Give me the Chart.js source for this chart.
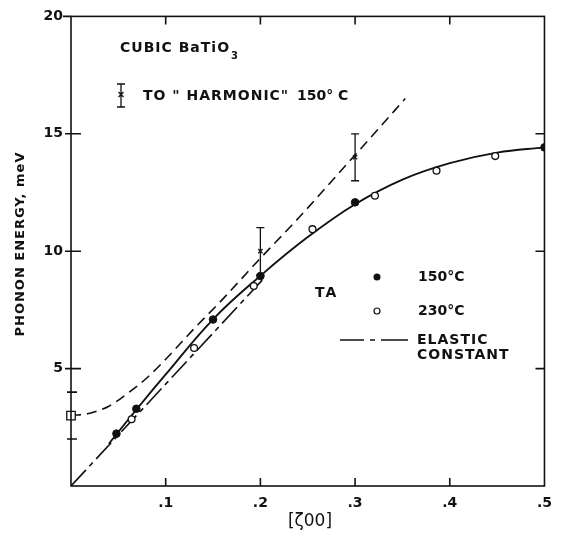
<!DOCTYPE html>
<html>
<head>
<meta charset="utf-8">
<script src="https://cdn.jsdelivr.net/npm/chart.js@4.4.0/dist/chart.umd.min.js"></script>
<style>
	html, body { margin: 0; padding: 0; background: #fff; }
	canvas { display: block; }
</style>
</head>
<body>
<canvas id="c" width="561" height="546"></canvas>
<script>
// TA phonon branch of cubic BaTiO3 along [ζ00]
const filled150 = [[0.048, 2.23], [0.069, 3.29], [0.150, 7.09], [0.200, 8.94], [0.300, 12.08], [0.500, 14.42]];
const open230 = [[0.064, 2.84], [0.130, 5.88], [0.193, 8.52], [0.255, 10.94], [0.321, 12.36], [0.386, 13.43], [0.448, 14.05]];

// smooth fit through the points
const fitCurve = [[0.040, 1.80], [0.070, 3.30], [0.100, 4.75], [0.150, 7.10], [0.200, 8.95], [0.250, 10.60],
	[0.300, 12.00], [0.350, 13.05], [0.400, 13.75], [0.450, 14.20], [0.500, 14.42]];

// "harmonic" dashed curve starting at the open square
const harmonicCurve = [[0.000, 3.00], [0.020, 3.10], [0.040, 3.40], [0.060, 3.95], [0.080, 4.60], [0.100, 5.40],
	[0.130, 6.70], [0.160, 7.95], [0.200, 9.70], [0.240, 11.40], [0.280, 13.20], [0.320, 15.00], [0.353, 16.50]];
const harmonicStart = [[0.0, 3.0]];

// elastic constant line
const elasticLine = [[0.0, 0.0], [0.205, 8.9]];

// TO "harmonic" 150°C error bars
const errX = [0.2, 0.3];
const errY = [10.0, 14.0];
const errLo = [9.0, 13.0];
const errHi = [11.0, 15.0];

const xTicks = [0, 0.1, 0.2, 0.3, 0.4, 0.5];
const yTicks = [0, 5, 10, 15, 20];
const yMinorTicks = [2, 4];

const FONT = "'DejaVu Sans', sans-serif";
const INK = '#111';

const toXY = arr => arr.map(p => ({x: p[0], y: p[1]}));

const framePlugin = {
	id: 'frame',
	afterDatasetsDraw(chart) {
		const {ctx, chartArea: a, scales: {x, y}} = chart;
		ctx.save();
		ctx.strokeStyle = INK;
		ctx.fillStyle = INK;

		// error bars
		ctx.lineWidth = 1.3;
		errX.forEach((xv, i) => {
			const px = x.getPixelForValue(xv);
			const top = y.getPixelForValue(errHi[i]);
			const bot = y.getPixelForValue(errLo[i]);
			ctx.beginPath();
			ctx.moveTo(px, top); ctx.lineTo(px, bot);
			ctx.moveTo(px - 4, top); ctx.lineTo(px + 4, top);
			ctx.moveTo(px - 4, bot); ctx.lineTo(px + 4, bot);
			ctx.stroke();
		});

		// frame
		ctx.lineWidth = 1.6;
		ctx.strokeRect(a.left, a.top, a.right - a.left, a.bottom - a.top);

		// inward ticks
		ctx.beginPath();
		xTicks.forEach(v => {
			if (v === 0 || v === 0.5) return;
			const px = x.getPixelForValue(v);
			ctx.moveTo(px, a.bottom); ctx.lineTo(px, a.bottom - 8);
			ctx.moveTo(px, a.top); ctx.lineTo(px, a.top + 8);
		});
		yTicks.forEach(v => {
			if (v === 0) return;
			const py = y.getPixelForValue(v);
			if (v === 20) {
				ctx.moveTo(a.left - 8, py); ctx.lineTo(a.left, py);
				return;
			}
			ctx.moveTo(a.left - 6, py); ctx.lineTo(a.left + 10, py);
			ctx.moveTo(a.right, py); ctx.lineTo(a.right - 9, py);
		});
		yMinorTicks.forEach(v => {
			const py = y.getPixelForValue(v);
			ctx.moveTo(a.left - 4, py); ctx.lineTo(a.left + 6, py);
		});
		ctx.stroke();

		// annotations
		ctx.textBaseline = 'middle';
		ctx.textAlign = 'left';
		ctx.font = `bold 14px ${FONT}`;
		ctx.letterSpacing = '1px';
		ctx.fillText('CUBIC BaTiO', 120, 48);
		const w = ctx.measureText('CUBIC BaTiO').width;
		ctx.font = `bold 10px ${FONT}`;
		ctx.fillText('3', 121 + w, 56);

		ctx.font = `bold 14px ${FONT}`;
		ctx.fillText('TO " HARMONIC"', 143, 96);
		ctx.letterSpacing = '0px';
		ctx.fillText('150° C', 297, 96);

		// legend error bar glyph
		ctx.lineWidth = 1.3;
		ctx.beginPath();
		ctx.moveTo(121, 84); ctx.lineTo(121, 107);
		ctx.moveTo(117, 84); ctx.lineTo(125, 84);
		ctx.moveTo(117, 107); ctx.lineTo(125, 107);
		ctx.moveTo(118.5, 92); ctx.lineTo(123.5, 97);
		ctx.moveTo(123.5, 92); ctx.lineTo(118.5, 97);
		ctx.stroke();

		// TA legend
		ctx.letterSpacing = '2px';
		ctx.fillText('TA', 315, 293);
		ctx.letterSpacing = '0px';
		ctx.beginPath();
		ctx.arc(377, 277, 3.5, 0, Math.PI * 2);
		ctx.fill();
		ctx.fillText('150°C', 418, 277);
		ctx.beginPath();
		ctx.arc(377, 311, 3, 0, Math.PI * 2);
		ctx.fillStyle = '#fff';
		ctx.fill();
		ctx.lineWidth = 1.2;
		ctx.stroke();
		ctx.fillStyle = INK;
		ctx.fillText('230°C', 418, 311);

		ctx.lineWidth = 1.6;
		ctx.beginPath();
		ctx.moveTo(340, 340); ctx.lineTo(364, 340);
		ctx.moveTo(370, 340); ctx.lineTo(375, 340);
		ctx.moveTo(381, 340); ctx.lineTo(408, 340);
		ctx.stroke();
		ctx.letterSpacing = '1px';
		ctx.fillText('ELASTIC', 417, 340);
		ctx.fillText('CONSTANT', 417, 355);

		// axis titles
		ctx.save();
		ctx.translate(21, 244);
		ctx.rotate(-Math.PI / 2);
		ctx.textAlign = 'center';
		ctx.font = `bold 13px ${FONT}`;
		ctx.letterSpacing = '1px';
		ctx.fillText('PHONON ENERGY, meV', 0, 0);
		ctx.restore();

		ctx.textAlign = 'center';
		ctx.letterSpacing = '0px';
		ctx.font = `17px ${FONT}`;
		ctx.fillText('[ζ00]', 310, 522);
		ctx.restore();
	}
};

new Chart(document.getElementById('c'), {
	type: 'scatter',
	data: {
		datasets: [
			{
				label: '150°C',
				data: toXY(filled150),
				pointRadius: 3.8,
				pointBackgroundColor: INK,
				pointBorderColor: INK,
				order: 1
			},
			{
				label: '230°C',
				data: toXY(open230),
				pointRadius: 3.4,
				pointBackgroundColor: '#fff',
				pointBorderColor: INK,
				pointBorderWidth: 1.3,
				order: 2
			},
			{
				label: 'harmonic start',
				data: toXY(harmonicStart),
				pointStyle: 'rect',
				pointRadius: 6,
				pointBackgroundColor: '#fff',
				pointBorderColor: INK,
				pointBorderWidth: 1.3,
				clip: false,
				order: 1
			},
			{
				label: 'TO harmonic',
				data: errX.map((v, i) => ({x: v, y: errY[i]})),
				pointStyle: 'crossRot',
				pointRadius: 3,
				pointBorderColor: INK,
				pointBorderWidth: 1.3,
				order: 1
			},
			{
				label: 'fit',
				data: toXY(fitCurve),
				showLine: true,
				pointRadius: 0,
				borderColor: INK,
				borderWidth: 1.9,
				tension: 0.4,
				order: 5
			},
			{
				label: 'harmonic',
				data: toXY(harmonicCurve),
				showLine: true,
				pointRadius: 0,
				borderColor: INK,
				borderWidth: 1.6,
				borderDash: [10, 6],
				cubicInterpolationMode: 'monotone',
				order: 5
			},
			{
				label: 'elastic constant',
				data: toXY(elasticLine),
				showLine: true,
				pointRadius: 0,
				borderColor: INK,
				borderWidth: 1.6,
				borderDash: [22, 5, 5, 5],
				order: 5
			}
		]
	},
	options: {
		responsive: false,
		animation: false,
		devicePixelRatio: 1,
		layout: {padding: {left: 0, right: 8, top: 14, bottom: 0}},
		plugins: {
			legend: {display: false},
			tooltip: {enabled: false}
		},
		scales: {
			x: {
				type: 'linear',
				min: 0,
				max: 0.5,
				afterFit: s => { s.height = 60; },
				afterBuildTicks: s => { s.ticks = xTicks.map(v => ({value: v})); },
				grid: {display: false, drawTicks: false},
				border: {display: false},
				ticks: {
					padding: 9,
					color: INK,
					font: {family: FONT, size: 14, weight: 'bold'},
					maxRotation: 0,
					callback: v => v === 0 ? '' : '.' + Math.round(v * 10)
				}
			},
			y: {
				type: 'linear',
				min: 0,
				max: 20,
				afterFit: s => { s.width = 71; },
				afterBuildTicks: s => { s.ticks = yTicks.map(v => ({value: v})); },
				grid: {display: false, drawTicks: false},
				border: {display: false},
				ticks: {
					padding: 8,
					color: INK,
					font: {family: FONT, size: 14, weight: 'bold'},
					callback: v => v === 0 ? '' : String(v)
				}
			}
		}
	},
	plugins: [framePlugin]
});
</script>
</body>
</html>
